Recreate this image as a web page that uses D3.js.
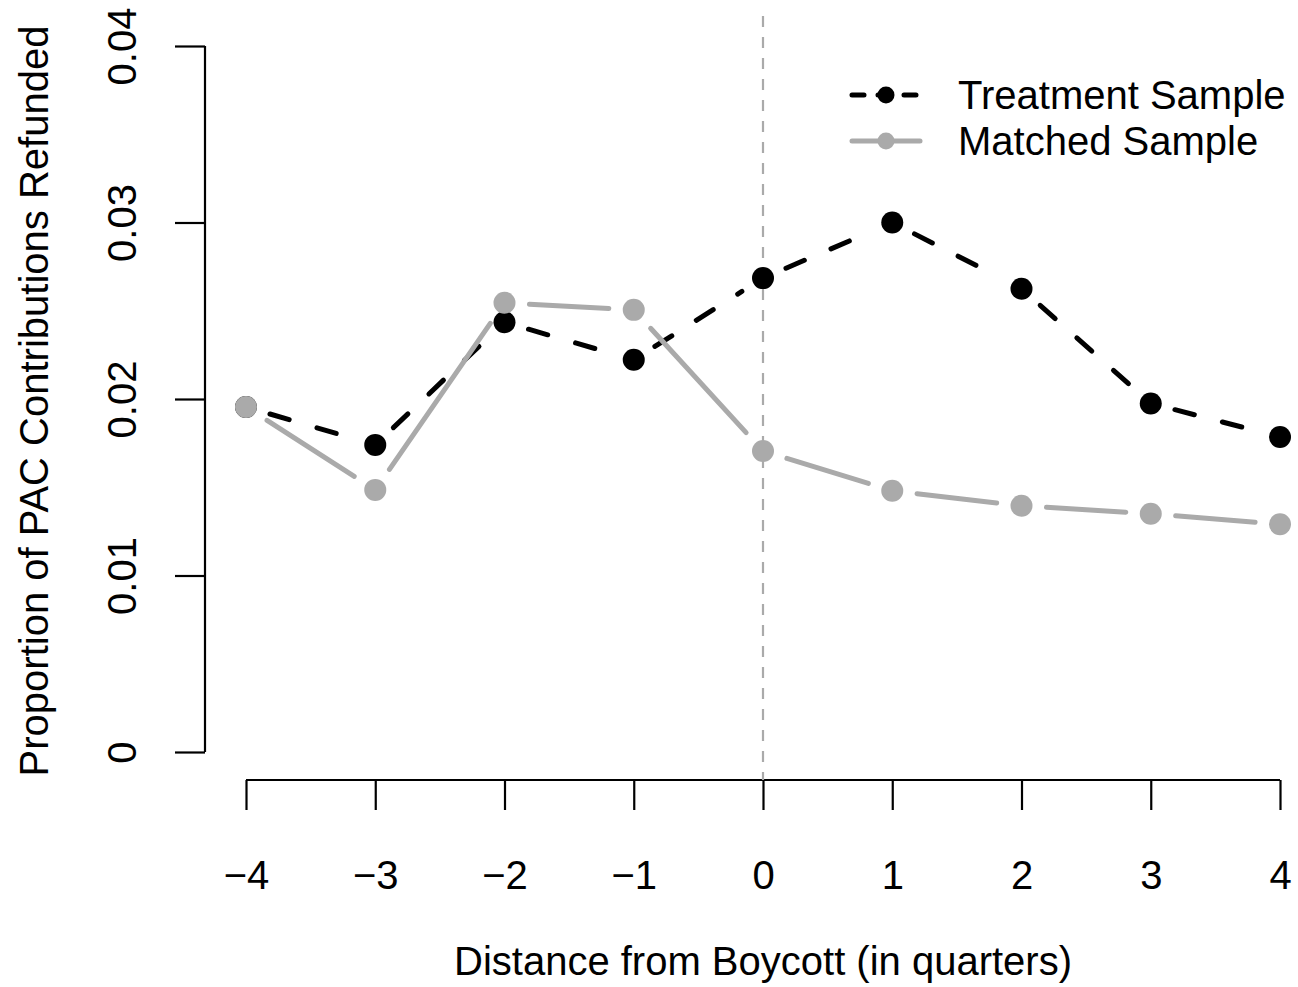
<!DOCTYPE html>
<html><head><meta charset="utf-8">
<script src="https://cdn.jsdelivr.net/npm/d3@7"></script>
<style>body{margin:0;background:#fff}svg{display:block}text{font-family:"Liberation Sans",Arial,sans-serif;fill:#000}</style>
</head><body>
<svg id="c" width="1298" height="987"></svg>
<script>
const quarters = [-4,-3,-2,-1,0,1,2,3,4];
const treatment = [0.01955,0.01740,0.02435,0.02222,0.02685,0.03000,0.02625,0.01975,0.01785];
const matched   = [0.01955,0.01485,0.02545,0.02505,0.01705,0.01480,0.01395,0.01350,0.01290];
const yTicks = [0,0.01,0.02,0.03,0.04];
const yTickLabels = ["0","0.01","0.02","0.03","0.04"];
const xTickLabels = ["\u22124","\u22123","\u22122","\u22121","0","1","2","3","4"];
const seriesNames = ["Treatment Sample","Matched Sample"];

const svg = d3.select("#c");
const x = d3.scaleLinear().domain([-4,4]).range([246,1280]);
const y = d3.scaleLinear().domain([0,0.04]).range([752,46]);
const FS = 40;

// y axis
const ya = svg.append("g").attr("transform","translate(205,0)")
  .call(d3.axisLeft(y).tickValues(yTicks).tickSize(30).tickSizeOuter(0).tickFormat(""));
ya.selectAll("path,line").attr("stroke","#000").attr("stroke-width",2.2);
ya.select(".domain").attr("d",`M0,${y(0)}V${y(0.04)}`);
ya.selectAll(".tick").append("text").attr("transform","translate(-83,0) rotate(-90)")
  .attr("text-anchor","middle").attr("dy","0.35em").style("font-size",FS+"px")
  .text((d,i)=>yTickLabels[i]);

// x axis
const xa = svg.append("g").attr("transform","translate(0,780)")
  .call(d3.axisBottom(x).tickValues(quarters).tickSize(30).tickSizeOuter(0).tickFormat(""));
xa.selectAll("path,line").attr("stroke","#000").attr("stroke-width",2.2);
xa.select(".domain").attr("d",`M${x(-4)},0H${x(4)}`);
xa.selectAll(".tick").append("text").attr("y",95).attr("dy","0.35em")
  .attr("text-anchor","middle").style("font-size",FS+"px").text((d,i)=>xTickLabels[i]);

// titles
svg.append("text").attr("x",763).attr("y",975).attr("text-anchor","middle")
  .style("font-size",FS+"px").text("Distance from Boycott (in quarters)");
svg.append("text").attr("transform","translate(48,401) rotate(-90)").attr("text-anchor","middle")
  .style("font-size",FS+"px").text("Proportion of PAC Contributions Refunded");

// vertical dashed line at 0
svg.append("line").attr("x1",x(0)).attr("x2",x(0)).attr("y1",16).attr("y2",780)
  .attr("stroke","#aaa").attr("stroke-width",2.2).attr("stroke-dasharray","11,10");

const GAP = 25;
function drawSeries(vals, color, dash){
  const g = svg.append("g");
  const pts = quarters.map((q,i)=>[x(q),y(vals[i])]);
  for(let i=0;i<pts.length-1;i++){
    const [x1,y1]=pts[i],[x2,y2]=pts[i+1];
    const L=Math.hypot(x2-x1,y2-y1);
    if(L<=2*GAP) continue;
    const ux=(x2-x1)/L, uy=(y2-y1)/L;
    g.append("line").attr("x1",x1+ux*GAP).attr("y1",y1+uy*GAP)
      .attr("x2",x2-ux*GAP).attr("y2",y2-uy*GAP)
      .attr("stroke",color).attr("stroke-width",5).attr("stroke-linecap","round")
      .attr("stroke-dasharray",dash||null);
  }
  g.selectAll("circle").data(pts).join("circle")
    .attr("cx",d=>d[0]).attr("cy",d=>d[1]).attr("r",11).attr("fill",color);
}
drawSeries(treatment,"#000","20,29");
drawSeries(matched,"#aaa",null);

// legend
const leg = svg.append("g");
[["#000","12,14"],["#aaa",null]].forEach((s,i)=>{
  const yy = 95+i*46;
  leg.append("line").attr("x1",852).attr("x2",920).attr("y1",yy).attr("y2",yy)
    .attr("stroke",s[0]).attr("stroke-width",5).attr("stroke-linecap","round")
    .attr("stroke-dasharray",s[1]);
  leg.append("circle").attr("cx",886).attr("cy",yy).attr("r",8.5).attr("fill",s[0]);
  leg.append("text").attr("x",958).attr("y",yy).attr("dy","0.35em")
    .style("font-size",FS+"px").text(seriesNames[i]);
});
</script>
</body></html>
